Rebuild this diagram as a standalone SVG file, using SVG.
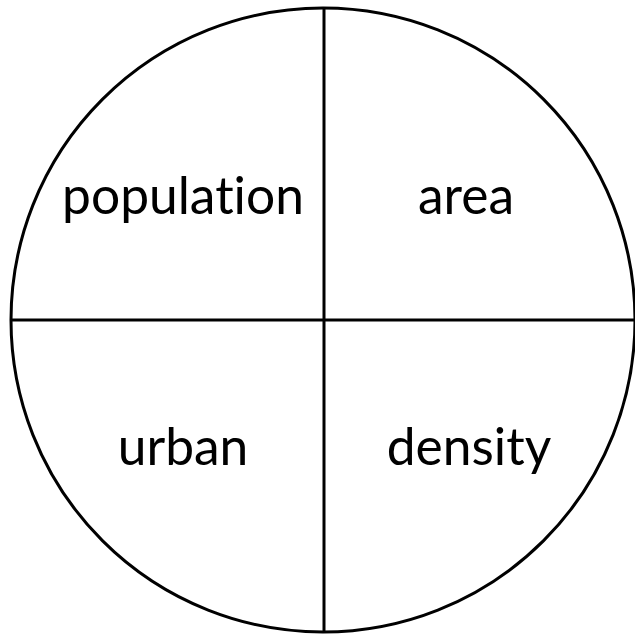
<svg xmlns="http://www.w3.org/2000/svg" width="635" height="634" viewBox="0 0 635 634">
<style>
.s{fill:none;stroke:#000;stroke-width:3}
.t{font-family:Lato,"Noto Sans",sans-serif;font-size:51.5px;fill:#000;text-anchor:middle;font-variant-ligatures:none;font-feature-settings:"liga" 0}
</style>
<rect width="635" height="634" fill="#fff"/>
<g id="connectors">
<circle class="s" cx="323" cy="320" r="312"/>
<line class="s" x1="324" y1="8" x2="324" y2="632"/>
<line class="s" x1="11" y1="320" x2="635" y2="320"/>
</g>
<g id="population"><text class="t" x="183" y="214">population</text></g>
<g id="area"><text class="t" x="466" y="214">area</text></g>
<g id="urban"><text class="t" x="183" y="465">urban</text></g>
<g id="density"><text class="t" x="469" y="465">density</text></g>
</svg>
